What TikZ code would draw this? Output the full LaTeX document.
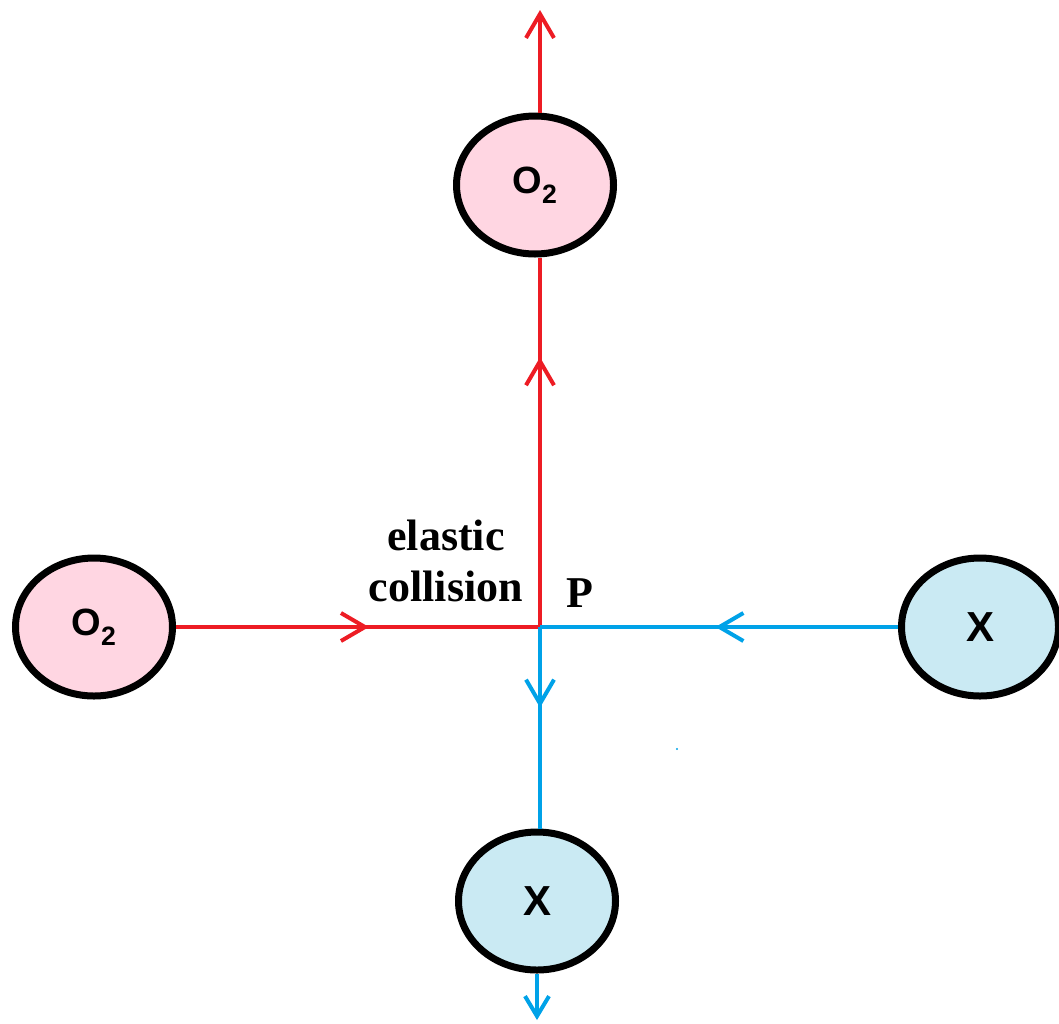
\documentclass[tikz,border=0pt]{standalone}
\usepackage{fontspec}
\setmainfont{Liberation Serif}
\newfontfamily\lsans{Liberation Sans}
\usetikzlibrary{shapes.geometric,arrows.meta,decorations.markings}
\definecolor{pred}{RGB}{237,28,36}
\definecolor{pblue}{RGB}{0,162,232}
\definecolor{pinkfill}{RGB}{255,214,226}
\definecolor{bluefill}{RGB}{202,234,243}
\tikzset{
  ball/.style={ellipse, draw=black, line width=7pt, inner sep=0pt,
    minimum width=157pt, minimum height=138pt,
    font=\lsans\bfseries\fontsize{38}{40}\selectfont},
  oxy/.style={ball, fill=pinkfill},
  xball/.style={ball, fill=bluefill, font=\lsans\bfseries\fontsize{42}{44}\selectfont},
  barb/.tip={Straight Barb[length=24pt,width=28pt,line width=4pt]},
  smallbarb/.tip={Straight Barb[length=20pt,width=24pt,line width=4pt]},
  redline/.style={draw=pred, line width=4.5pt},
  blueline/.style={draw=pblue, line width=4.5pt},
  midarrow/.style={decoration={markings, mark=at position #1 with {\arrow{barb}}}, postaction={decorate}},
  lbl/.style={font=\bfseries\fontsize{44}{51}\selectfont, inner sep=0pt}
}
\begin{document}
\begin{tikzpicture}[x=1pt,y=-1pt]
\useasboundingbox (0,0) rectangle (1059,1023);
% nodes
\coordinate (P) at (540,627);
\coordinate (topend) at (540,10);
\coordinate (botend) at (537,1020);
\node[oxy]   (o2t) at (535,185) {O\textsubscript{2}};
\node[oxy]   (o2l) at (94,627) {O\textsubscript{2}};
\node[xball] (xr)  at (980,627) {X};
\node[xball] (xb)  at (537,901) {X};
% connectors
\draw[redline, midarrow=0.53] (o2l.east) -- (P);
\draw[redline, midarrow=0.73] (P) -- (o2t.south -| P);
\draw[redline, -barb] (o2t.north -| P) -- (topend);
\draw[blueline, midarrow=0.51] (xr.west) -- (P);
\draw[blueline, midarrow=0.40] (P) -- (xb.north -| P);
\draw[blueline, -smallbarb] (xb.south) -- (botend);
% labels
\node[lbl, align=center] (ec) at (446,561) {elastic\\collision};
\node[lbl, anchor=base] (plbl) at (580,607) {P};
\fill[pblue] (677,749) circle (1.2pt);
\end{tikzpicture}
\end{document}
